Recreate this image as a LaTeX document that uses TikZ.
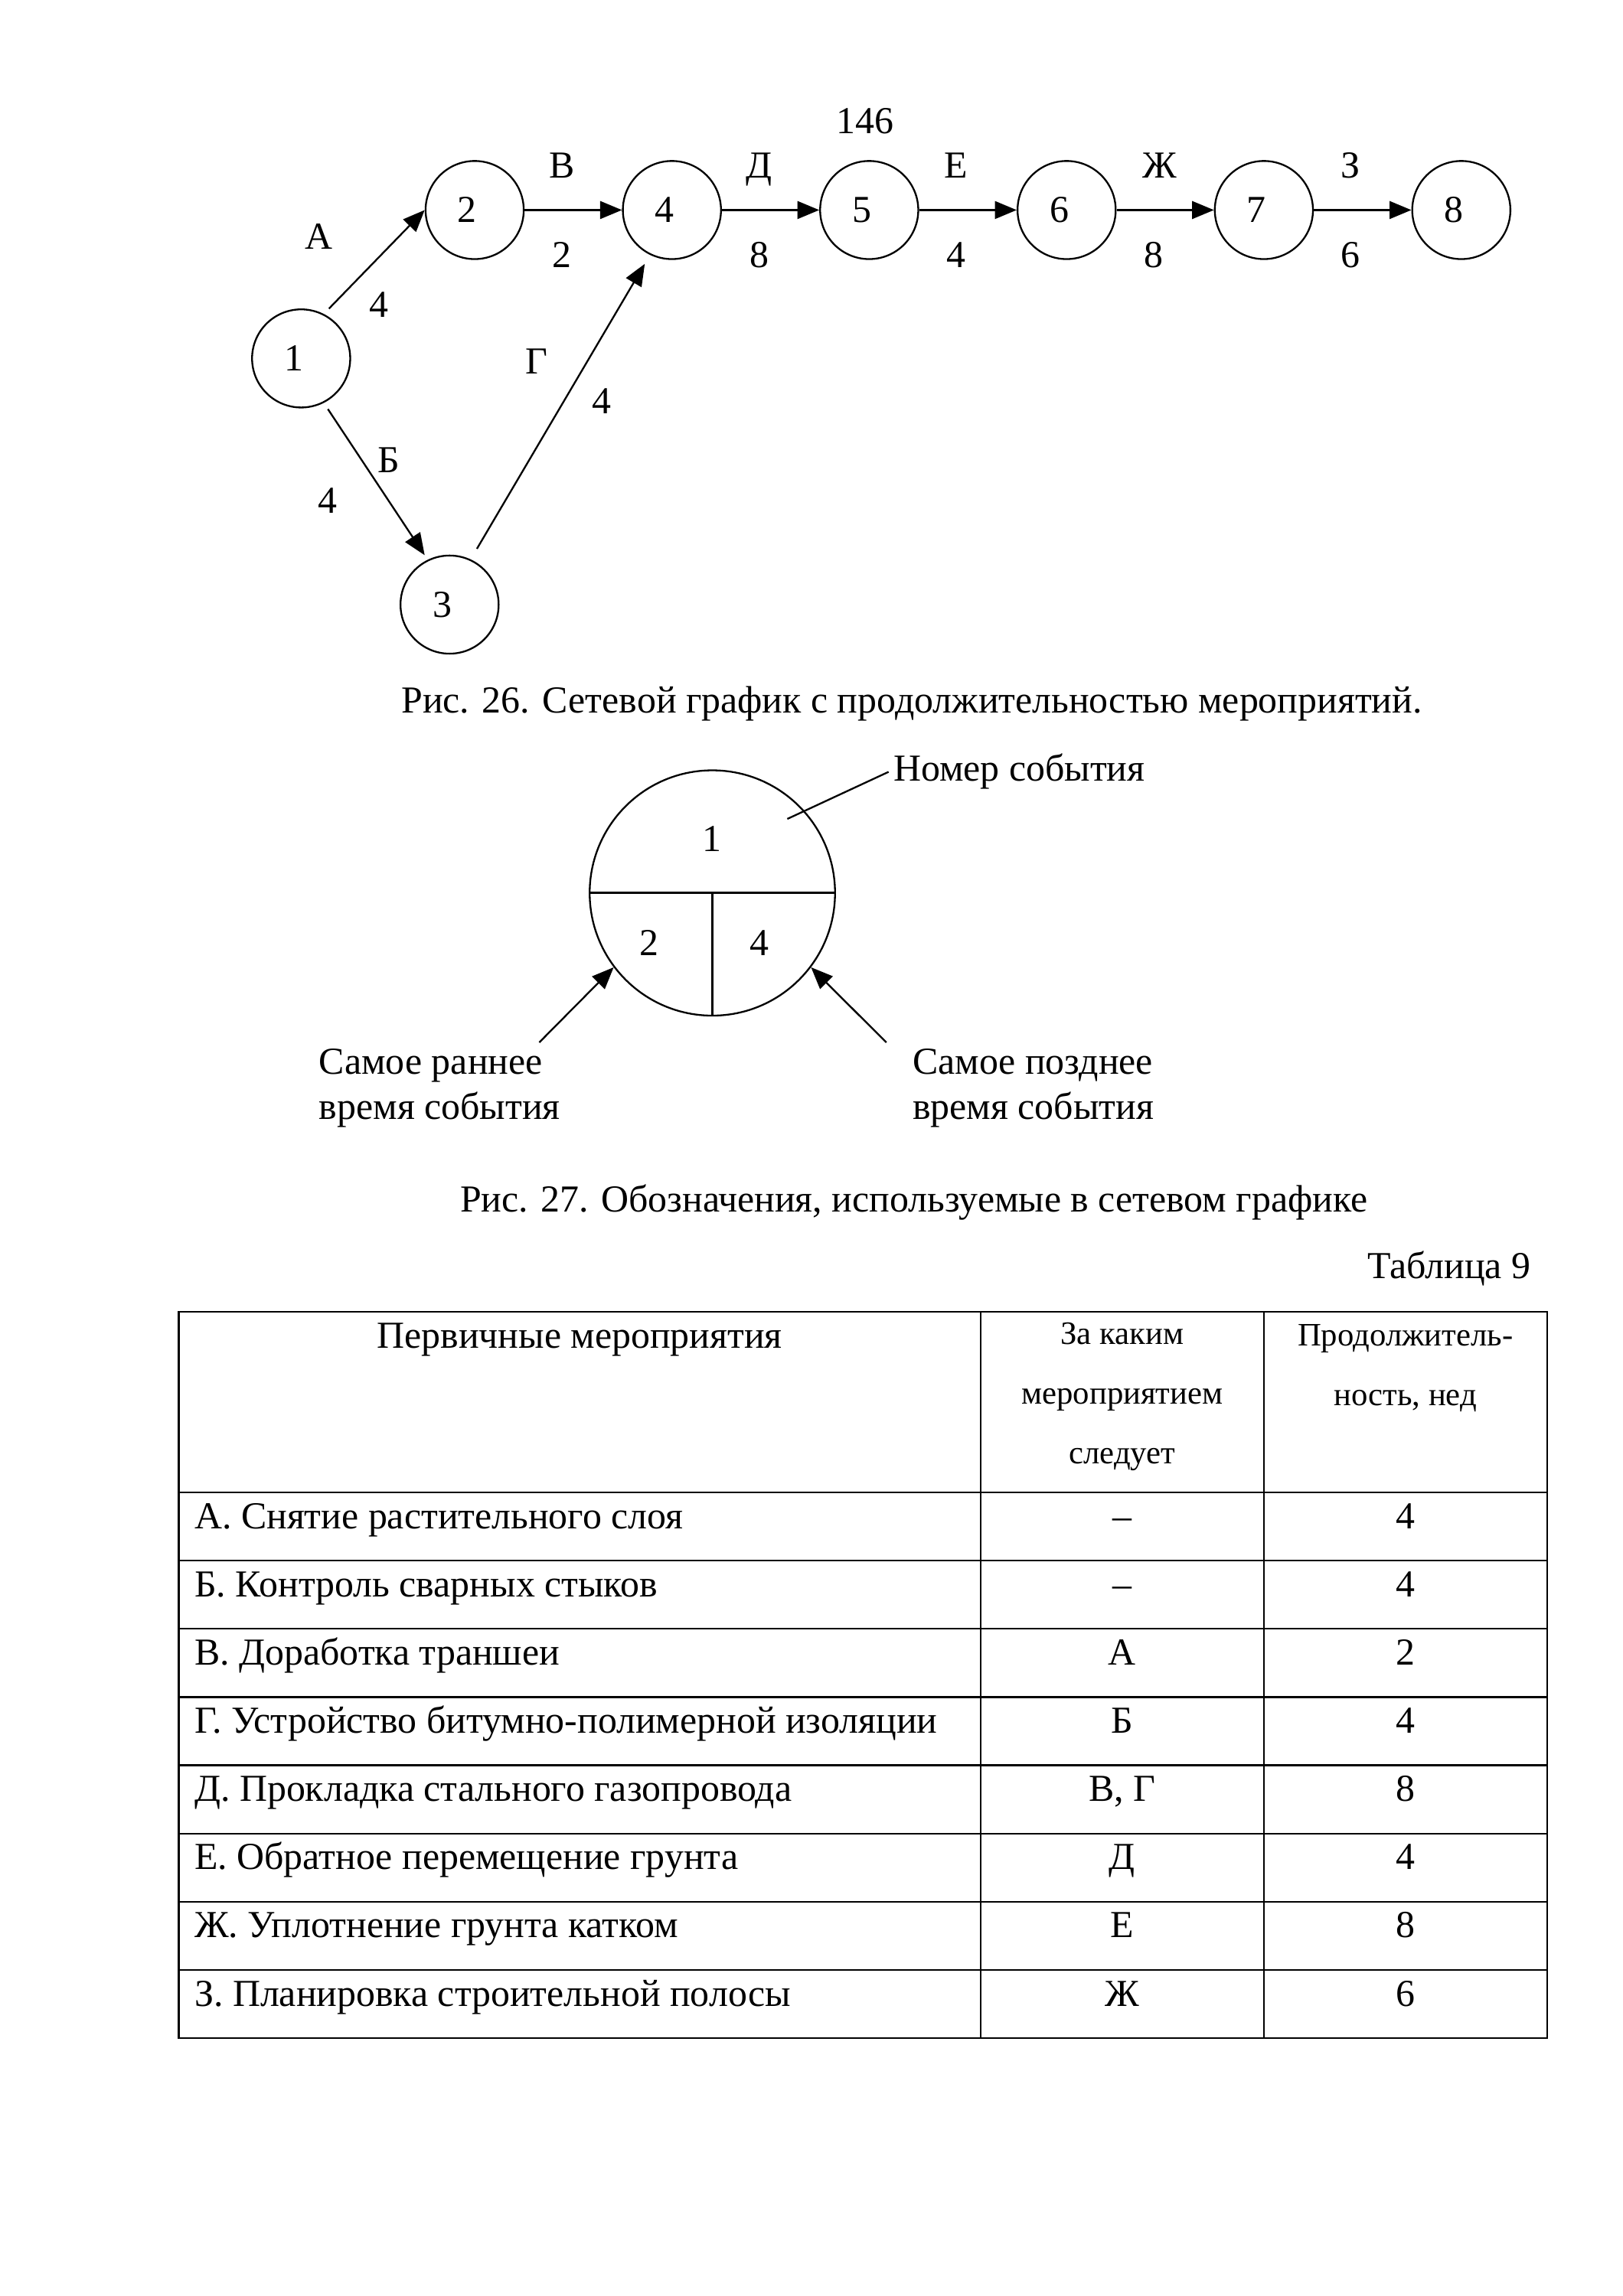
\documentclass[tikz,border=0pt]{standalone}
\usepackage{fontspec}
\setmainfont{Liberation Serif}
\usetikzlibrary{arrows.meta}

\tikzset{every picture/.style={line width=0.65pt}}
\tikzset{
	event/.style={draw, circle, minimum size=36pt, inner sep=0pt, font=\fontsize{14}{17}\selectfont, execute at begin node=\hspace*{-5.4pt}},
	lbl/.style={inner sep=0pt, text height=9.7pt, text depth=3pt, font=\fontsize{14}{17}\selectfont},
	small/.style={inner sep=0pt, align=center, font=\fontsize{12}{21.9}\selectfont},
	flow/.style={-{Triangle[length=8pt,width=6.5pt]}},
}

\begin{document}
\begin{tikzpicture}[x=0.5412pt,y=0.5412pt,yscale=-1,xscale=1]
	\useasboundingbox (0,0) rectangle (1100,1556.6);

	%Shapes: Events
	\node[event] (n1) at (204.1,243.0) {1};
	\node[event] (n2) at (321.7,142.4) {2};
	\node[event] (n4) at (455.4,142.4) {4};
	\node[event] (n5) at (589.1,142.4) {5};
	\node[event] (n6) at (722.9,142.4) {6};
	\node[event] (n7) at (856.6,142.4) {7};
	\node[event] (n8) at (990.4,142.4) {8};
	\node[event] (n3) at (304.7,409.9) {3};

	%Straight Lines: Works
	\draw[flow, shorten <=2.7pt] (n1.63) -- (n2.west);
	\draw[flow, shorten <=2.7pt, shorten >=2pt] (n1.-63) -- (n3.116);
	\draw[flow, shorten <=4.5pt, shorten >=3.8pt] (n3.65) -- (n4.-116);
	\draw[flow] (n2) -- (n4);
	\draw[flow] (n4) -- (n5);
	\draw[flow] (n5) -- (n6);
	\draw[flow] (n6) -- (n7);
	\draw[flow] (n7) -- (n8);

	% Text Node
	\node[lbl] (top) at (586.2,84.1) {146};
	% Text Node
	\node[lbl] (wA) at (215.9,162.8) {А};
	\node[lbl] (tA) at (257.0,208.7) {4};
	% Text Node
	\node[lbl] (wB) at (263.7,314.2) {Б};
	\node[lbl] (tB) at (222.1,341.6) {4};
	% Text Node
	\node[lbl] (wV) at (380.7,114.4) {В};
	\node[lbl] (tV) at (380.7,175.2) {2};
	% Text Node
	\node[lbl] (wG) at (363.9,247.2) {Г};
	\node[lbl] (tG) at (407.8,274.5) {4};
	% Text Node
	\node[lbl] (wD) at (514.7,114.4) {Д};
	\node[lbl] (tD) at (514.7,175.2) {8};
	% Text Node
	\node[lbl] (wE) at (648.1,114.4) {Е};
	\node[lbl] (tE) at (648.1,175.2) {4};
	% Text Node
	\node[lbl] (wZh) at (786.0,114.4) {Ж};
	\node[lbl] (tZh) at (782.0,175.2) {8};
	% Text Node
	\node[lbl] (wZ) at (915.4,114.4) {З};
	\node[lbl] (tZ) at (915.4,175.2) {6};

	% Text Node
	\node[lbl] (cap26) at (618.0,476.9) {Рис. 26. Сетевой график с продолжительностью мероприятий.};

	%Shape: Key circle
	\node[draw, circle, minimum size=90pt, inner sep=0pt] (key) at (482.8,605.4) {};
	\draw[line width=0.8pt] (key.west) -- (key.east);
	\draw (key.center) -- (key.south);
	\node[lbl] (keynum) at (482.6,570.8) {1};
	\node[lbl] (keyearly) at (440.2,641.7) {2};
	\node[lbl] (keylate) at (514.6,641.7) {4};

	% Text Node
	\node[lbl, anchor=west] (numtxt) at (605.0,523.3) {Номер события};
	\coordinate (numend) at (533.6,555.2);
	\draw (numend) -- ([xshift=-1.5pt]numtxt.west);
	% Text Node
	\node[inner sep=0pt, anchor=west, align=left, font=\fontsize{14}{16.7}\selectfont] (earlytxt) at (215.7,737.7) {Самое раннее\\время события};
	\coordinate (earlyfoot) at (365.5,706.7);
	\draw[flow] (earlyfoot) -- (key.217.5);
	% Text Node
	\node[inner sep=0pt, anchor=west, align=left, font=\fontsize{14}{16.7}\selectfont] (latetxt) at (618.0,737.7) {Самое позднее\\время события};
	\coordinate (latefoot) at (600.7,706.7);
	\draw[flow] (latefoot) -- (key.-37.3);

	% Text Node
	\node[lbl] (cap27) at (619.4,815.2) {Рис. 27. Обозначения, используемые в сетевом графике};
	% Text Node
	\node[lbl, anchor=east] (tabno) at (1038.0,860.6) {Таблица 9};

	%Table lines
	\draw (121.1,889.5) rectangle (1048.5,1381.9);
	\draw (664.7,889.5) -- (664.7,1381.9);
	\draw (856.5,889.5) -- (856.5,1381.9);
	\draw (121.1,1011.8) -- (1048.5,1011.8);
	\draw (121.1,1058.1) -- (1048.5,1058.1);
	\draw (121.1,1104.3) -- (1048.5,1104.3);
	\draw (121.1,1150.6) -- (1048.5,1150.6);
	\draw (121.1,1196.8) -- (1048.5,1196.8);
	\draw (121.1,1243.1) -- (1048.5,1243.1);
	\draw (121.1,1289.4) -- (1048.5,1289.4);
	\draw (121.1,1335.6) -- (1048.5,1335.6);

	% Text Node: header
	\node[lbl] (hwork) at (392.9,907.9) {Первичные мероприятия};
	\node[small] (hprev) at (760.6,946.8) {За каким\\мероприятием\\следует};
	\node[small] (hdur) at (952.5,927.4) {Продолжитель-\\ность, нед};

	% Text Node: rows
	\node[lbl, anchor=west] (rA) at (131.3,1030.0) {А. Снятие растительного слоя};
	\node[lbl] (pA) at (760.6,1030.0) {–};
	\node[lbl] (dA) at (952.5,1030.0) {4};
	\node[lbl, anchor=west] (rB) at (131.3,1076.2) {Б. Контроль сварных стыков};
	\node[lbl] (pB) at (760.6,1076.2) {–};
	\node[lbl] (dB) at (952.5,1076.2) {4};
	\node[lbl, anchor=west] (rV) at (131.3,1122.5) {В. Доработка траншеи};
	\node[lbl] (pV) at (760.6,1122.5) {А};
	\node[lbl] (dV) at (952.5,1122.5) {2};
	\node[lbl, anchor=west] (rG) at (131.3,1168.7) {Г. Устройство битумно-полимерной изоляции};
	\node[lbl] (pG) at (760.6,1168.7) {Б};
	\node[lbl] (dG) at (952.5,1168.7) {4};
	\node[lbl, anchor=west] (rD) at (131.3,1215.0) {Д. Прокладка стального газопровода};
	\node[lbl] (pD) at (760.6,1215.0) {В, Г};
	\node[lbl] (dD) at (952.5,1215.0) {8};
	\node[lbl, anchor=west] (rE) at (131.3,1261.2) {Е. Обратное перемещение грунта};
	\node[lbl] (pE) at (760.6,1261.2) {Д};
	\node[lbl] (dE) at (952.5,1261.2) {4};
	\node[lbl, anchor=west] (rZh) at (131.3,1307.5) {Ж. Уплотнение грунта катком};
	\node[lbl] (pZh) at (760.6,1307.5) {Е};
	\node[lbl] (dZh) at (952.5,1307.5) {8};
	\node[lbl, anchor=west] (rZ) at (131.3,1353.8) {З. Планировка строительной полосы};
	\node[lbl] (pZ) at (760.6,1353.8) {Ж};
	\node[lbl] (dZ) at (952.5,1353.8) {6};

\end{tikzpicture}
\end{document}
